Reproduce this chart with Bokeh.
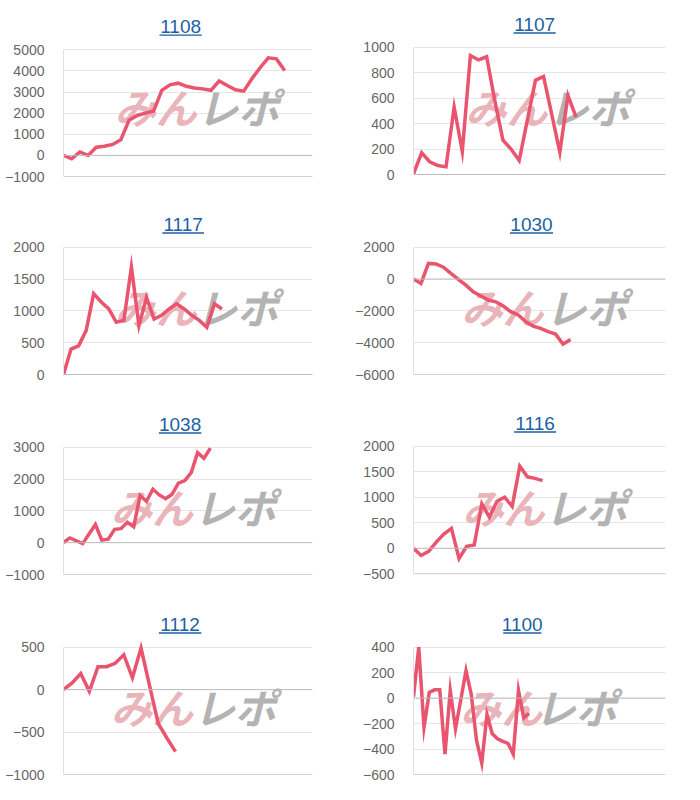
from bokeh.plotting import figure
from bokeh.layouts import gridplot
from bokeh.models import FixedTicker, Range1d, Span
from bokeh.core.properties import value
from bokeh.embed import file_html
from bokeh.resources import INLINE

# ---------------- data ----------------
titles = ["1108", "1107", "1117", "1030", "1038", "1116", "1112", "1100"]

s1108 = [0, -160, 160, 0, 390, 430, 520, 740, 1660, 1890, 2000, 2100, 3080, 3340,
         3420, 3270, 3190, 3150, 3080, 3520, 3310, 3110, 3040, 3630, 4150, 4620, 4570, 4020]
s1107 = [5, 170, 100, 70, 60, 530, 180, 935, 900, 925, 580, 270, 200, 110, 425, 740,
         770, 475, 175, 620, 450]
s1117 = [0, 400, 450, 690, 1270, 1140, 1030, 820, 850, 1690, 770, 1210, 870, 930, 1030,
         1110, 1030, 930, 850, 740, 1110, 1030]
s1030 = [0, -280, 980, 950, 740, 360, -20, -380, -800, -1070, -1320, -1430, -1700, -2050,
         -2260, -2680, -2960, -3100, -3310, -3460, -4090, -3800]
s1038 = [0, 150, 60, -30, 270, 570, 80, 110, 420, 440, 640, 500, 1480, 1300, 1680, 1500,
         1380, 1520, 1870, 1950, 2200, 2830, 2650, 2970]
s1116 = [0, -140, -60, 120, 280, 390, -200, 40, 65, 870, 610, 920, 1000, 820, 1610, 1400,
         1370, 1325]
s1112 = [0, 80, 190, -20, 270, 270, 310, 410, 140, 490, 40, -400, -570, -730]
s1100 = [10, 400, -230, 45, 65, 65, -440, 60, -240, -15, 215, 30, -330, -510, -130, -280,
         -320, -340, -355, -440, 60, -155, -120]

ticks_1108 = [-1000, 0, 1000, 2000, 3000, 4000, 5000]
ticks_1107 = [0, 200, 400, 600, 800, 1000]
ticks_1117 = [0, 500, 1000, 1500, 2000]
ticks_1030 = [-6000, -4000, -2000, 0, 2000]
ticks_1038 = [-1000, 0, 1000, 2000, 3000]
ticks_1116 = [-500, 0, 500, 1000, 1500, 2000]
ticks_1112 = [-1000, -500, 0, 500]
ticks_1100 = [-600, -400, -200, 0, 200, 400]

series = [s1108, s1107, s1117, s1030, s1038, s1116, s1112, s1100]
tick_sets = [ticks_1108, ticks_1107, ticks_1117, ticks_1030, ticks_1038, ticks_1116,
             ticks_1112, ticks_1100]

# ---------------- layout (cell pixels) ----------------
W, H = 350, 200
geom = [
    dict(left=59, right=312, yt=49.3, yb=176.0, slots=30.4, tx=178.0, ty=25.8),
    dict(left=58, right=315, yt=46.7, yb=174.0, slots=31.0, tx=181.5, ty=23.7),
    dict(left=58, right=315, yt=46.7, yb=174.0, slots=33.0, tx=181.5, ty=23.7),
    dict(left=63, right=315, yt=46.7, yb=174.0, slots=33.7, tx=181.0, ty=23.7),
    dict(left=63, right=315, yt=46.7, yb=174.0, slots=39.0, tx=181.0, ty=23.7),
    dict(left=61, right=318, yt=45.7, yb=173.3, slots=33.2, tx=185.0, ty=22.7),
    dict(left=63, right=315, yt=46.7, yb=174.0, slots=28.9, tx=181.0, ty=23.7),
    dict(left=58, right=343, yt=46.7, yb=174.0, slots=48.0, tx=181.0, ty=23.7),
]

LINE = "#e9546e"
TITLE = "#1d5fa5"
FONT = value("Liberation Sans")


def make(title, ys, tk, g):
    fw = g["right"] - g["left"]
    T, B = max(tk), min(tk)
    s = (g["yb"] - g["yt"]) / (T - B)
    y_end = T + g["yt"] / s
    y_start = B - (H - g["yb"]) / s
    xmax = g["slots"]
    ux = xmax / fw

    def X(px):
        return (px - g["left"]) * ux

    def Y(py):
        return T - (py - g["yt"]) / s

    p = figure(width=W, height=H, x_range=Range1d(0, xmax), y_range=Range1d(y_start, y_end),
               output_backend="svg", toolbar_location=None, tools="", x_axis_location=None,
               min_border_left=g["left"], min_border_right=W - g["right"],
               min_border_top=0, min_border_bottom=0, outline_line_color=None)
    p.xgrid.visible = False
    p.ygrid.ticker = FixedTicker(ticks=tk)
    p.ygrid.grid_line_color = "#e6e6e6"
    ax = p.yaxis[0]
    ax.ticker = FixedTicker(ticks=tk)
    ax.bounds = (B, T)
    ax.axis_line_color = "#e0e0e0"
    ax.major_tick_line_color = None
    ax.minor_tick_line_color = None
    ax.major_tick_out = 0
    ax.major_tick_in = 0
    ax.major_label_standoff = 19
    ax.major_label_text_font = "Liberation Sans"
    ax.major_label_text_font_size = "14px"
    ax.major_label_text_color = "#666666"

    p.add_layout(Span(location=B, dimension="width", line_color="#d2d2d2", line_width=1))
    p.add_layout(Span(location=0, dimension="width", line_color="#bdbdbd", line_width=1))

    # watermark
    p.text(x=[X(111)], y=[Y(105)], text=["みん"], text_align="left", text_baseline="middle",
           text_font=value("Noto Sans CJK JP"), text_font_style="bold italic",
           text_font_size="41px", text_color="#eab5ba")
    p.text(x=[X(195)], y=[Y(105)], text=["レポ"], text_align="left", text_baseline="middle",
           text_font=value("Noto Sans CJK JP"), text_font_style="bold italic",
           text_font_size="41px", text_color="#b3b3b3")

    p.line(x=list(range(len(ys))), y=ys, line_color=LINE, line_width=3.5, line_join="miter")

    # title with underline
    p.text(x=[X(g["tx"])], y=[Y(g["ty"])], text=[title], text_align="center",
           text_baseline="middle", text_font=FONT, text_font_size="19px",
           text_color=TITLE)
    uy = g["ty"] + 8.8
    p.segment(x0=[X(g["tx"] - 21.5)], y0=[Y(uy)], x1=[X(g["tx"] + 21.5)],
              y1=[Y(uy)], line_color=TITLE, line_width=1.3)
    return p


plots = [make(t, ys, tk, g) for t, ys, tk, g in zip(titles, series, tick_sets, geom)]
grid = gridplot([plots[i:i + 2] for i in range(0, 8, 2)], toolbar_location=None)

open("out.html", "w").write(file_html(grid, INLINE, title="charts"))
